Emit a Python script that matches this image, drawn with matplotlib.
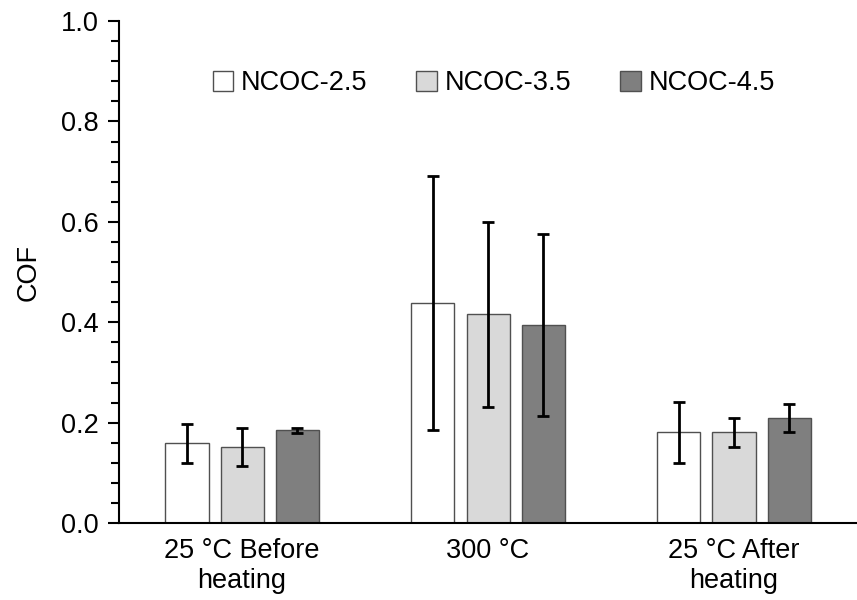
import matplotlib
matplotlib.use("Agg")
from matplotlib import pyplot as plt
from matplotlib.ticker import MultipleLocator
import numpy as np

plt.rcParams["font.family"] = ["Liberation Sans", "DejaVu Sans"]

categories = ["25 °C Before\nheating", "300 °C", "25 °C After\nheating"]
series = ["NCOC-2.5", "NCOC-3.5", "NCOC-4.5"]
cof_25 = [0.159, 0.438, 0.181]
cof_35 = [0.151, 0.416, 0.181]
cof_45 = [0.185, 0.394, 0.209]
err_25 = [0.039, 0.253, 0.061]
err_35 = [0.038, 0.184, 0.029]
err_45 = [0.005, 0.181, 0.028]

values = [cof_25, cof_35, cof_45]
errors = [err_25, err_35, err_45]
colors = ["white", "#d9d9d9", "#7f7f7f"]

fig = plt.figure(figsize=(8.57, 6.0), dpi=100)
ax = fig.add_axes([0.139, 0.128, 0.861, 0.837])

x = np.arange(len(categories))
width = 0.175
offsets = [-0.224, 0.0, 0.224]

for vals, errs, col, name, off in zip(values, errors, colors, series, offsets):
    ax.bar(x + off, vals, width, color=col, edgecolor="#505050", linewidth=1.0, label=name, zorder=2)
    ax.errorbar(x + off, vals, yerr=errs, fmt="none", ecolor="black", elinewidth=2,
                capsize=4, capthick=2, zorder=3)

ax.set_xlim(-0.5, 2.5)
ax.set_ylim(0, 1.0)
ax.set_xticks(x)
ax.set_xticklabels(categories, fontsize=19.5)
ax.tick_params(axis="x", length=0, pad=11)
ax.yaxis.set_minor_locator(MultipleLocator(0.04))
ax.set_yticks(np.arange(0, 1.01, 0.2))
ax.set_yticklabels([f"{v:.1f}" for v in np.arange(0, 1.01, 0.2)], fontsize=19.5)
ax.tick_params(axis="y", which="major", length=8, width=1.5, direction="out", pad=7)
ax.tick_params(axis="y", which="minor", length=6, width=1.5, direction="out")
ax.set_ylabel("COF", fontsize=19.5)
ax.yaxis.set_label_coords(-0.105, 0.5)

ax.spines["top"].set_visible(False)
ax.spines["right"].set_visible(False)
ax.spines["left"].set_linewidth(1.5)
ax.spines["bottom"].set_linewidth(1.5)

ax.legend(loc="upper center", bbox_to_anchor=(0.508, 0.95), ncol=3, frameon=False,
          fontsize=19.5, handlelength=0.75, handleheight=0.75, handletextpad=0.3,
          columnspacing=1.8)

fig.savefig("out.png", dpi=100)
